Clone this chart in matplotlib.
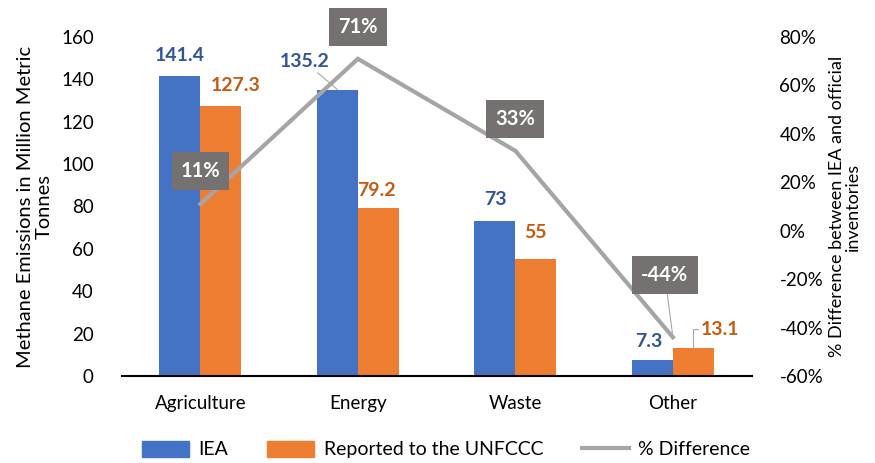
import matplotlib.pyplot as plt
import numpy as np
from matplotlib.lines import Line2D
from matplotlib.patches import Patch

plt.rcParams['font.family'] = ['Lato', 'DejaVu Sans']

categories = ['Agriculture', 'Energy', 'Waste', 'Other']
iea = [141.4, 135.2, 73, 7.3]
unfccc = [127.3, 79.2, 55, 13.1]
pct_diff = [11, 71, 33, -44]

blue = '#4472C4'
orange = '#ED7D31'
grey = '#A5A5A5'

fig = plt.figure(figsize=(8.75, 4.63), dpi=100)
ax = fig.add_axes([0.139, 0.188, 0.72, 0.732])
ax2 = ax.twinx()

x = np.arange(len(categories))
w = 0.26
ax.bar(x - w / 2, iea, w, color=blue, zorder=2)
ax.bar(x + w / 2, unfccc, w, color=orange, zorder=2)

ax.set_xlim(-0.5, 3.5)
ax.set_ylim(0, 160)
ax.set_yticks(range(0, 161, 20))
ax.set_xticks(x)
ax.set_xticklabels(categories, fontsize=13.5)
ax.tick_params(axis='x', length=0, pad=14)
ax.tick_params(axis='y', length=0, labelsize=13.5, pad=20)
for s in ['top', 'right', 'left']:
    ax.spines[s].set_visible(False)
ax2.spines[:].set_visible(False)
ax.spines['bottom'].set_linewidth(1.5)
ax.set_ylabel('Methane Emissions in Million Metric\nTonnes', fontsize=14.5, labelpad=6,
              linespacing=1.1)

ax2.plot(x, pct_diff, color=grey, lw=3, solid_joinstyle='miter', zorder=3)
ax2.set_ylim(-60, 80)
ax2.set_yticks(range(-60, 81, 20))
ax2.set_yticklabels([f'{v}%' for v in range(-60, 81, 20)])
ax2.tick_params(axis='y', length=0, labelsize=13.5, pad=20)
ax2.set_ylabel('% Difference between IEA and official\ninventories', fontsize=13, labelpad=4,
               linespacing=1.0)

px = 0.72  # points per pixel
leader = dict(arrowstyle='-', color='#A6A6A6', lw=0.8, shrinkA=0, shrinkB=0)

# bar value labels
iea_off = [(0, 21), (-33, 28), (0, 22), (-4, 19)]
for i, (v, off) in enumerate(zip(iea, iea_off)):
    ax.annotate(f'{v:g}', (x[i] - w / 2, v), xytext=(off[0] * px, off[1] * px),
                textcoords='offset points', ha='center', va='center',
                fontsize=14, fontweight='bold', color='#2F5597',
                arrowprops=leader if i == 1 else None, zorder=5)
unf_off = [(15, 21), (-2, 18), (0, 27), (27, 19)]
for i, (v, off) in enumerate(zip(unfccc, unf_off)):
    ax.annotate(f'{v:g}', (x[i] + w / 2, v), xytext=(off[0] * px, off[1] * px),
                textcoords='offset points', ha='center', va='center',
                fontsize=14, fontweight='bold', color='#C55A11',
                arrowprops=dict(leader, connectionstyle='angle,angleA=0,angleB=90,rad=0') if i == 3 else None,
                zorder=5)

# percentage labels in grey boxes
pct_off = [(0, 33), (0, 32), (0, 32), (-8, 62)]
for i, (v, off) in enumerate(zip(pct_diff, pct_off)):
    ax2.annotate(f'{v}%', (x[i], v), xytext=(off[0] * px, off[1] * px),
                 textcoords='offset points', ha='center', va='center',
                 fontsize=14.5, fontweight='bold', color='white',
                 bbox=dict(boxstyle='square,pad=0.45', fc='#767171', ec='none'),
                 arrowprops=leader if i == 3 else None, zorder=6)

handles = [Patch(color=blue, label='IEA'),
           Patch(color=orange, label='Reported to the UNFCCC'),
           Line2D([0], [0], color=grey, lw=3, label='% Difference')]
fig.legend(handles=handles, loc='lower center', bbox_to_anchor=(0.51, -0.028),
           ncol=3, frameon=False, fontsize=14, handlelength=2.4, handleheight=0.9,
           columnspacing=2.0, handletextpad=0.5)

fig.savefig('out.png', dpi=100)
